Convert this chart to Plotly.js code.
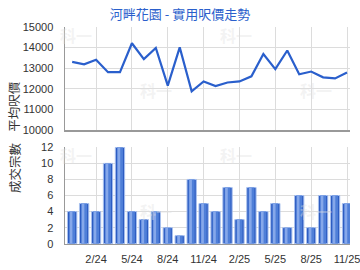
<!DOCTYPE html>
<html><head><meta charset="utf-8">
<script src="https://cdn.plot.ly/plotly-3.0.1.min.js"></script>
<style>html,body{margin:0;padding:0;background:#fff}#c{width:360px;height:270px}</style>
</head><body><div id="c"></div>
<script>
const months = ['12/23','1/24','2/24','3/24','4/24','5/24','6/24','7/24','8/24','9/24','10/24','11/24',
  '12/24','1/25','2/25','3/25','4/25','5/25','6/25','7/25','8/25','9/25','10/25','11/25'];
const avgPrice = [13300,13180,13400,12800,12800,14200,13430,13970,12150,14000,11870,12350,
  12130,12300,12350,12600,13680,12950,13850,12700,12830,12550,12500,12780];
const deals = [4,5,4,10,12,4,3,4,2,1,8,5,4,7,3,7,4,5,2,6,2,6,6,5];
const tickLabels = ['2/24','5/24','8/24','11/24','2/25','5/25','8/25','11/25'];

const font = 'Liberation Sans, Arial, sans-serif';
const cjk = 'Noto Sans CJK TC, sans-serif';
const xr = [-0.6, 23.25];

const traces = [
  {x: months, y: avgPrice, type: 'scatter', mode: 'lines', xaxis: 'x', yaxis: 'y',
   line: {color: '#2a5fcc', width: 2.2}, hoverinfo: 'skip'},
  {x: months, y: deals, type: 'bar', xaxis: 'x2', yaxis: 'y2', width: 0.78,
   marker: {color: '#2d5cc2', line: {color: '#a9c1ee', width: 1}}, hoverinfo: 'skip'},
  {x: months, y: deals, type: 'bar', xaxis: 'x2', yaxis: 'y2', width: 0.5,
   marker: {color: '#4f7fd8', line: {width: 0}}, hoverinfo: 'skip'},
  {x: months, y: deals, type: 'bar', xaxis: 'x2', yaxis: 'y2', width: 0.22, offset: -0.2,
   marker: {color: '#86a8ea', line: {width: 0}}, hoverinfo: 'skip'}
];

const wm = (xref, yref, x, y) => ({xref, yref, x, y, text: '<b>科一</b>', showarrow: false,
  font: {family: cjk, size: 16, color: 'rgba(225,225,225,0.4)'}});

const layout = {
  width: 360, height: 270, margin: {l: 65, r: 10, t: 0, b: 0},
  paper_bgcolor: '#fff', plot_bgcolor: '#fff', showlegend: false, barmode: 'overlay',
  title: {text: '河畔花園 - 實用呎價走勢', x: 0.5, xref: 'container', y: 0.948, yref: 'container',
    yanchor: 'middle', font: {family: cjk, size: 13, color: '#2a5fcc'}},
  xaxis: {domain: [0, 1], range: xr, type: 'category', tickmode: 'array', tickvals: tickLabels,
    showticklabels: false, showgrid: true, gridcolor: '#dcdcdc', gridwidth: 1,
    showline: true, linecolor: '#999', linewidth: 1.5, ticks: '', zeroline: false, anchor: 'y', fixedrange: true},
  yaxis: {domain: [0.5185, 0.901], range: [10000, 15000], dtick: 1000, tickmode: 'linear', tickformat: 'd',
    showgrid: true, gridcolor: '#dcdcdc', showline: true, linecolor: '#999', linewidth: 1.5,
    ticks: '', ticklabelstandoff: 8, zeroline: false, anchor: 'x',
    tickfont: {family: font, size: 11, color: '#333'}},
  xaxis2: {domain: [0, 1], range: xr, type: 'category', tickmode: 'array', tickvals: tickLabels, ticktext: tickLabels,
    showgrid: true, gridcolor: '#dcdcdc', showline: true, linecolor: '#999', linewidth: 1.5,
    ticks: '', ticklabelstandoff: 5, zeroline: false, anchor: 'y2',
    tickfont: {family: font, size: 11, color: '#333'}},
  yaxis2: {domain: [0.0974, 0.4544], range: [0, 12], dtick: 2, tickmode: 'linear',
    showgrid: true, gridcolor: '#dcdcdc', showline: true, linecolor: '#999', linewidth: 1.5,
    ticks: '', ticklabelstandoff: 8, zeroline: false, anchor: 'x2',
    tickfont: {family: font, size: 11, color: '#333'}},
  annotations: [
    {xref: 'paper', yref: 'paper', x: -0.179, xanchor: 'center', y: 0.71, text: '平均呎價', textangle: -90, showarrow: false,
     font: {family: cjk, size: 12.5, color: '#333'}},
    {xref: 'paper', yref: 'paper', x: -0.175, xanchor: 'center', y: 0.276, text: '成交宗數', textangle: -90, showarrow: false,
     font: {family: cjk, size: 12.5, color: '#333'}},
    wm('x', 'y', 0.33, 14600), wm('x', 'y', 13.7, 14600), wm('x', 'y', 7, 11936), wm('x', 'y', 20.4, 11936),
    wm('x2', 'y2', 0.33, 11.04), wm('x2', 'y2', 13.7, 11.04), wm('x2', 'y2', 7, 4.07), wm('x2', 'y2', 20.4, 4.07)
  ]
};
Plotly.newPlot('c', traces, layout, {staticPlot: true, displayModeBar: false});
</script></body></html>
